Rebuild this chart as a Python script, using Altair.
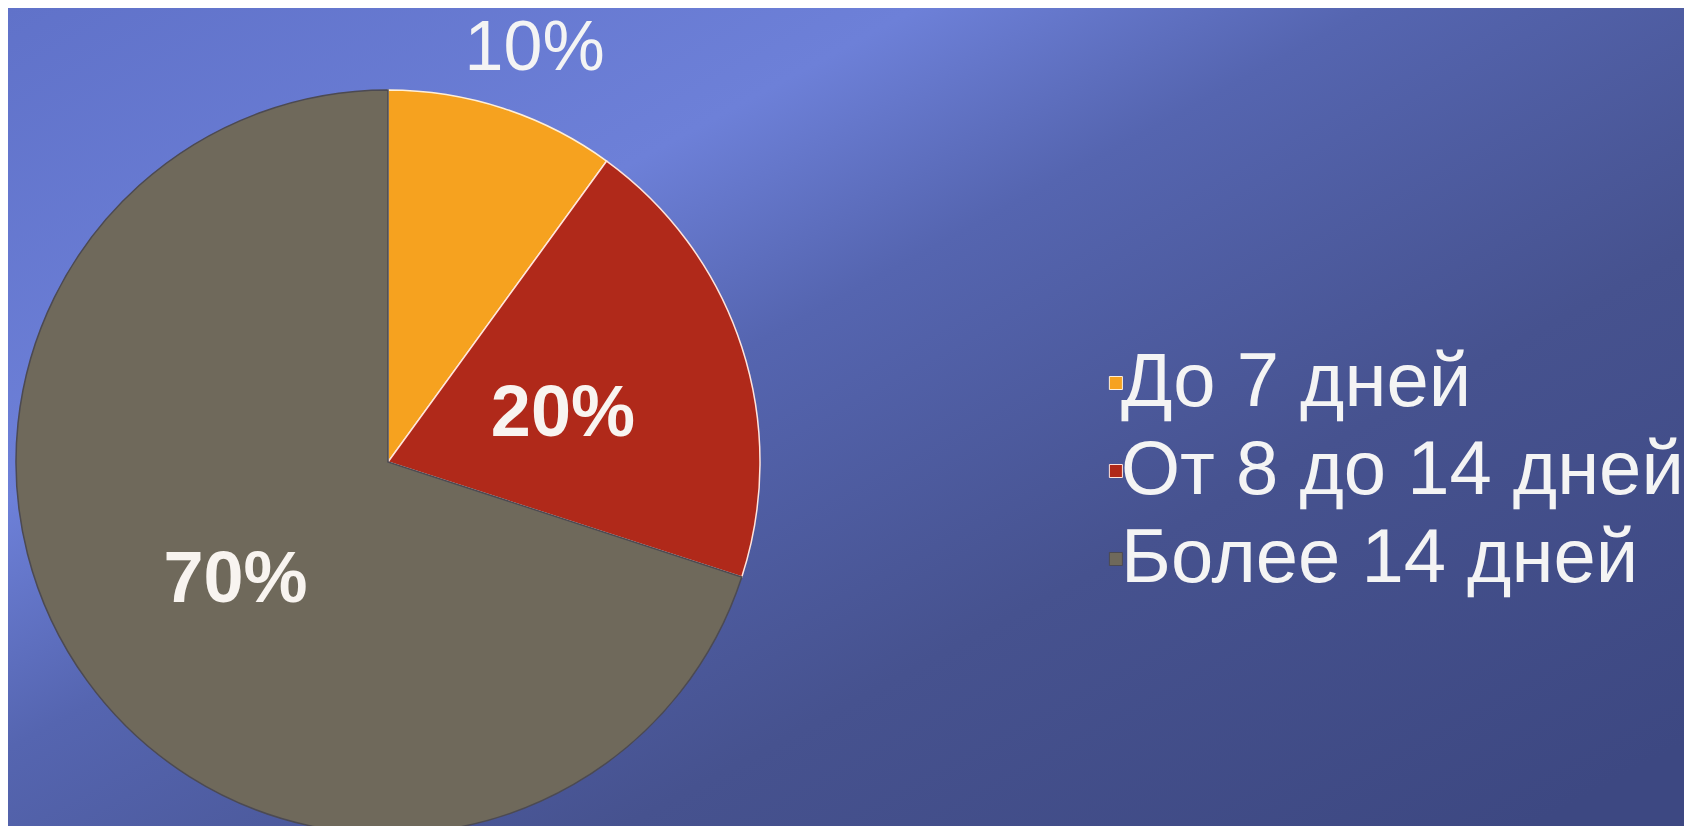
import altair as alt
import pandas as pd

categories = ["До 7 дней", "От 8 до 14 дней", "Более 14 дней"]
values = [10, 20, 70]
colors = ["#f6a21f", "#b0291a", "#6f695b"]
edge_colors = ["#fff0d8", "#ffe4dc", "#4c4a52"]

df = pd.DataFrame({"category": categories, "value": values, "idx": list(range(len(categories)))})

W, H = 1676, 818
CX, CY, R = 380, 454, 372

bg = alt.Chart(pd.DataFrame({"k": [0]})).mark_rect(
    color=alt.LinearGradient(
        gradient="linear",
        x1=0, y1=0, x2=1, y2=0.9,
        stops=[
            alt.GradientStop(color="#6072c9", offset=0),
            alt.GradientStop(color="#6d80d8", offset=0.3),
            alt.GradientStop(color="#5565b0", offset=0.45),
            alt.GradientStop(color="#46528f", offset=0.7),
            alt.GradientStop(color="#3d4882", offset=1),
        ],
    )
).encode(x=alt.value(0), x2=alt.value(W), y=alt.value(0), y2=alt.value(H))

base = alt.Chart(df).encode(
    theta=alt.Theta("value:Q", stack=True),
    order=alt.Order("idx:Q"),
    x=alt.value(CX),
    y=alt.value(CY),
)

# square legend symbol drawn shifted right, next to its label
square_shifted = "M 3.77 -0.93 H 5.63 V 0.93 H 3.77 Z"

pie = base.mark_arc(outerRadius=R, strokeWidth=1.5).encode(
    color=alt.Color(
        "category:N",
        scale=alt.Scale(domain=categories, range=colors),
        sort=categories,
        legend=alt.Legend(
            title=None,
            orient="none",
            legendX=1037,
            legendY=337,
            symbolType=square_shifted,
            symbolSize=196,
            symbolStrokeColor="#e8dcc8",
            symbolStrokeWidth=1,
            labelFontSize=76,
            labelFont="Liberation Sans",
            labelColor="#f4f4f4",
            labelLimit=1000,
            labelOffset=0,
            rowPadding=12,
        ),
    ),
    stroke=alt.Stroke("category:N", scale=alt.Scale(domain=categories, range=edge_colors), legend=None),
)

outer = base.mark_text(radius=442, dx=10, dy=7, fontSize=70, font="Liberation Sans", color="#f4f4f4").encode(
    text="lab:N"
).transform_calculate(lab="datum.value < 15 ? datum.value + '%' : ''")

inner = base.mark_text(radius=186, dx=-2, dy=9, fontSize=72, font="Liberation Sans", fontWeight="bold", color="#f8f4f0").encode(
    text="lab:N"
).transform_calculate(lab="datum.value >= 15 ? datum.value + '%' : ''")

chart = alt.layer(bg, pie, outer, inner).properties(
    width=W, height=H, padding=0, autosize=alt.AutoSizeParams(type="none")
).configure_view(stroke=None).configure(background="#4a58a0")

chart.save("out.html", embed_options={"renderer": "svg", "actions": False})
